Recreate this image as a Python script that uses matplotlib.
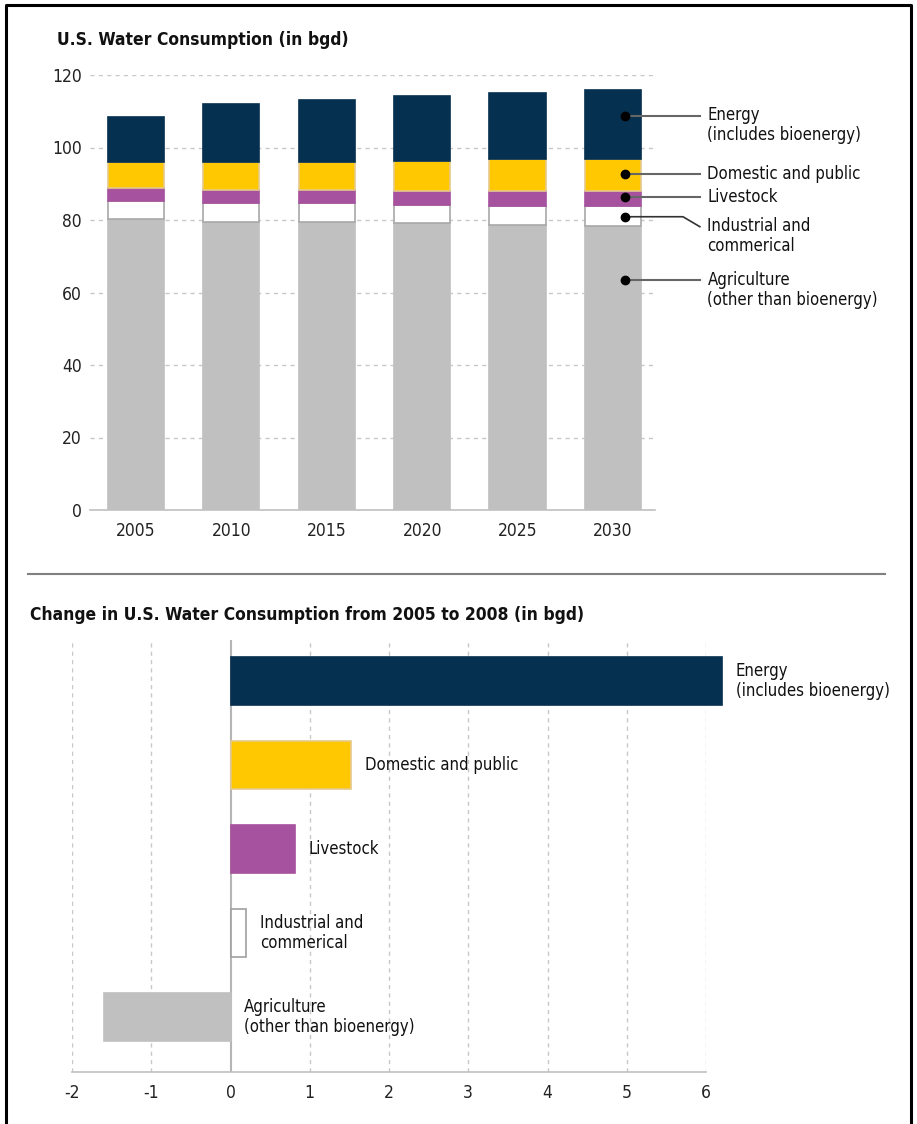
import matplotlib
matplotlib.use("Agg")
import matplotlib.pyplot as plt
from matplotlib.lines import Line2D

plt.rcParams['font.family'] = ['DejaVu Sans']
plt.rcParams['font.stretch'] = 'condensed'
plt.rcParams['axes.unicode_minus'] = False

# data
years = ['2005', '2010', '2015', '2020', '2025', '2030']
agriculture = [80.2, 79.4, 79.4, 79.1, 78.6, 78.3]
industrial = [5.1, 5.2, 5.2, 5.1, 5.3, 5.6]
livestock = [3.4, 3.8, 3.8, 3.8, 4.1, 4.1]
domestic = [7.3, 7.6, 7.6, 8.4, 8.7, 8.7]
energy = [12.5, 16.1, 17.1, 17.9, 18.2, 19.1]

change_labels = ['Energy\n(includes bioenergy)', 'Domestic and public', 'Livestock',
                 'Industrial and\ncommerical', 'Agriculture\n(other than bioenergy)']
change_values = [6.2, 1.52, 0.81, 0.2, -1.6]

c_energy = '#05304f'
c_dom = '#ffc800'
c_live = '#a6529f'
c_ind = '#ffffff'
c_agr = '#c0c0c0'
colors = [c_energy, c_dom, c_live, c_ind, c_agr]
edges = [c_energy, '#e6c98a', c_live, '#a0a0a0', c_agr]
grid_c = '#c8c8c8'
axis_c = '#c0c0c0'
fs_tick = 12.5
fs_lab = 12
fs_title = 12.5

fig = plt.figure(figsize=(9.17, 11.24), dpi=100)
W, H = 917, 1124

def fx(px):
    return px / W

def fy(py):
    return 1 - py / H

# ---------- top: stacked bars ----------
ax1 = fig.add_axes([fx(90), fy(510), fx(655) - fx(90), fy(75) - fy(510)])
x = list(range(len(years)))
series = [agriculture, industrial, livestock, domestic, energy]
s_cols = [c_agr, c_ind, c_live, c_dom, c_energy]
s_edges = [c_agr, '#a8a8a8', c_live, '#e6c98a', c_energy]
bottom = [0] * len(years)
for vals, col, ec in zip(series, s_cols, s_edges):
    ax1.bar(x, vals, bottom=bottom, width=0.59, color=col, edgecolor=ec,
            linewidth=1.2, zorder=3)
    bottom = [b + v for b, v in zip(bottom, vals)]

ax1.set_xlim(-0.48, 5.44)
ax1.set_ylim(0, 120)
ax1.set_yticks(range(0, 121, 20))
ax1.set_xticks(x)
ax1.set_xticklabels(years)
ax1.tick_params(length=0, labelsize=fs_tick, colors='#222222')
ax1.tick_params(axis='y', pad=6)
ax1.tick_params(axis='x', pad=9)
ax1.yaxis.grid(True, color=grid_c, linestyle=(0, (3, 3)), linewidth=1)
for s in ['top', 'right', 'left']:
    ax1.spines[s].set_visible(False)
ax1.spines['bottom'].set_color(axis_c)
ax1.spines['bottom'].set_linewidth(1.2)
ax1.set_axisbelow(True)

# callouts on the 2030 bar
dot_x = 5.125
line_end = 5.91
text_x = 5.99
top_labels = ['Energy\n(includes bioenergy)', 'Domestic and public', 'Livestock',
              'Industrial and\ncommerical', 'Agriculture\n(other than bioenergy)']
dot_y = [108.8, 92.7, 86.4, 80.9, 63.4]
text_y = [106.2, 92.7, 86.4, 75.6, 60.7]
for i, (lab, dy, ty) in enumerate(zip(top_labels, dot_y, text_y)):
    ax1.plot([dot_x], [dy], 'o', color='black', markersize=6, zorder=5, clip_on=False)
    if i == 3:
        ax1.plot([dot_x, 5.733, line_end], [dy, dy, 78.15], color='#333333',
                 linewidth=1.2, zorder=4, clip_on=False)
    else:
        ax1.plot([dot_x, line_end], [dy, dy], color='#666666', linewidth=1.5,
                 zorder=4, clip_on=False)
    ax1.text(text_x, ty, lab, fontsize=fs_lab, va='center', ha='left',
             linespacing=1.15, color='#111111', clip_on=False)

fig.text(fx(57), fy(40), 'U.S. Water Consumption (in bgd)', fontsize=fs_title,
         fontweight='bold', va='center', ha='left', color='#111111')

# separator
fig.add_artist(Line2D([fx(28), fx(885)], [fy(574), fy(574)], color='#808080',
                      linewidth=1.5))

# ---------- bottom: change bars ----------
ax2 = fig.add_axes([fx(72), fy(1072), fx(706) - fx(72), fy(640) - fy(1072)])
pos = list(range(len(change_values)))
ax2.barh(pos, change_values, height=0.57, color=colors, edgecolor=edges,
         linewidth=1.2, zorder=3, clip_on=False)
ax2.set_xlim(-2, 6)
ax2.set_ylim(4.65, -0.49)
ax2.set_xticks(range(-2, 7))
ax2.set_yticks([])
ax2.tick_params(length=0, labelsize=fs_tick, colors='#222222', pad=9)
for v in range(-2, 7):
    if v == 0:
        ax2.axvline(0, color='#b5b5b5', linewidth=1.5, zorder=2)
    else:
        ax2.axvline(v, color=grid_c, linestyle=(0, (3, 3)), linewidth=1, zorder=1)
for s in ['top', 'right', 'left']:
    ax2.spines[s].set_visible(False)
ax2.spines['bottom'].set_color(axis_c)
ax2.spines['bottom'].set_linewidth(1.2)

for p, v, lab in zip(pos, change_values, change_labels):
    ax2.annotate(lab, xy=(max(v, 0), p), xytext=(10, 0), textcoords='offset points',
                 fontsize=fs_lab, va='center', ha='left', linespacing=1.15,
                 color='#111111', annotation_clip=False)

fig.text(fx(30), fy(615), 'Change in U.S. Water Consumption from 2005 to 2008 (in bgd)',
         fontsize=fs_title, fontweight='bold', va='center', ha='left', color='#111111')

# frame around the figure (left, top, right)
fig.add_artist(Line2D([fx(6), fx(6), fx(911), fx(911)], [0, fy(5), fy(5), 0],
                      color='black', linewidth=2.2))

fig.savefig('out.png', dpi=100, facecolor='white')
